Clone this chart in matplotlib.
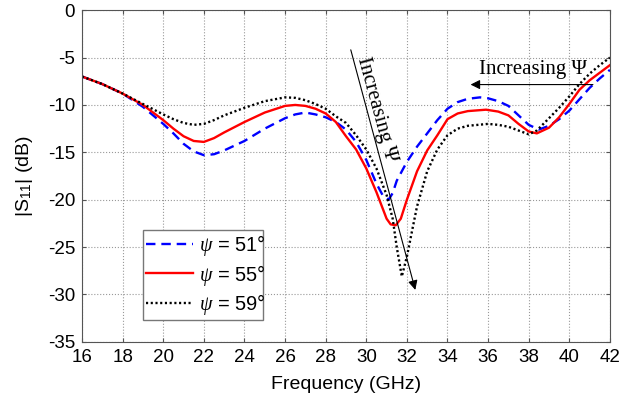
import matplotlib
matplotlib.use("Agg")
import matplotlib.pyplot as plt

plt.rcParams['font.family'] = ['Liberation Sans', 'DejaVu Sans']
plt.rcParams['axes.unicode_minus'] = False
plt.rcParams['mathtext.fontset'] = 'custom'
plt.rcParams['mathtext.rm'] = 'Liberation Sans'
plt.rcParams['mathtext.it'] = 'Liberation Serif:italic'

# --- data ---
f_51 = [16, 17, 18, 19, 20, 20.5, 21, 21.5, 22, 22.5, 23, 23.5, 24, 25, 26, 26.5,
        27, 27.5, 28, 28.5, 29, 29.5, 30, 30.5, 30.8, 31.1, 31.3, 31.5, 32, 32.5,
        33, 33.5, 34, 34.5, 35, 35.6, 36, 36.5, 37, 37.5, 38, 38.5, 39, 39.5, 40,
        40.5, 41, 41.5, 42]
s_51 = [-7.0, -7.8, -8.8, -10.2, -12.0, -13.0, -14.1, -14.9, -15.3, -15.2, -14.8,
        -14.3, -13.8, -12.5, -11.4, -11.0, -10.8, -11.0, -11.3, -11.8, -12.6, -13.9,
        -15.8, -18.3, -19.5, -20.0, -19.3, -18.0, -16.0, -14.4, -13.0, -11.6, -10.4,
        -9.7, -9.35, -9.2, -9.3, -9.6, -10.1, -11.1, -12.1, -12.6, -12.2, -11.5,
        -10.6, -9.4, -8.2, -7.2, -6.3]

f_55 = [16, 17, 18, 19, 20, 20.5, 21, 21.5, 22, 22.5, 23, 24, 25, 26, 26.5, 27,
        27.5, 28, 28.5, 29, 29.5, 30, 30.5, 31.0, 31.2, 31.45, 31.7, 32, 32.5, 33,
        33.5, 34, 34.5, 35, 35.9, 36.5, 37, 37.5, 38, 38.4, 39, 39.5, 40, 40.5, 41,
        41.5, 42]
s_55 = [-7.0, -7.8, -8.8, -10.0, -11.6, -12.5, -13.3, -13.8, -13.9, -13.5, -12.9,
        -11.8, -10.8, -10.1, -10.0, -10.1, -10.4, -10.9, -11.8, -13.3, -14.7, -16.7,
        -19.2, -22.0, -22.6, -22.7, -22.0, -20.0, -17.0, -14.8, -13.2, -11.5, -10.9,
        -10.65, -10.5, -10.7, -11.1, -12.0, -12.8, -13.0, -12.4, -11.3, -9.9, -8.4,
        -7.4, -6.6, -5.8]

f_59 = [16, 17, 18, 19, 20, 20.5, 21, 21.5, 22, 22.5, 23, 24, 25, 26, 26.5, 27,
        27.5, 28, 28.5, 29, 29.5, 30, 30.5, 31.0, 31.3, 31.5, 31.75, 32.0, 32.3,
        32.5, 33, 33.5, 34, 34.5, 35, 36, 36.5, 37, 37.5, 38, 38.4, 39, 39.5, 40,
        40.5, 41, 41.5, 42]
s_59 = [-7.0, -7.8, -8.8, -9.9, -11.0, -11.5, -11.9, -12.1, -12.0, -11.6, -11.1,
        -10.3, -9.6, -9.2, -9.25, -9.5, -9.9, -10.4, -11.2, -11.9, -13.2, -14.7,
        -16.7, -19.5, -22.0, -25.0, -28.1, -26.0, -22.8, -20.7, -17.0, -14.7, -13.2,
        -12.5, -12.2, -12.0, -12.1, -12.3, -12.7, -13.1, -12.7, -11.4, -10.3, -9.1,
        -7.8, -6.7, -5.8, -5.0]

labels = [r'$\psi$ = 51°', r'$\psi$ = 55°', r'$\psi$ = 59°']

fig = plt.figure(figsize=(6.36, 4.07), dpi=100)
ax = fig.add_axes([0.129, 0.160, 0.830, 0.815])

ax.plot(f_51, s_51, color='#0000ff', lw=1.7, dashes=(4, 2.5), label=labels[0])
ax.plot(f_55, s_55, color='#ff0000', lw=1.7, label=labels[1])
ax.plot(f_59, s_59, color='black', lw=1.7, dashes=(0.9, 1.1), label=labels[2])

ax.set_xlim(16, 42)
ax.set_ylim(-35, 0)
ax.set_xticks(range(16, 43, 2))
ax.set_yticks(range(-35, 1, 5))
ax.tick_params(direction='in', labelsize=13.5, top=True, right=True,
               length=3, color='#555555', pad=5)
for s in ax.spines.values():
    s.set_color('#555555')
    s.set_linewidth(0.8)
ax.grid(True, ls=':', color='#999999', lw=0.8)

ax.set_xlabel('Frequency (GHz)', fontsize=14, labelpad=7)
ax.set_ylabel(r'|S$_{11}$| (dB)', fontsize=14, labelpad=9)

# --- annotations ---
ax.annotate('', xy=(32.45, -29.8), xytext=(29.2, -3.9),
            arrowprops=dict(arrowstyle='-|>', color='black', lw=0.8,
                            mutation_scale=14))
ax.text(30.5, -10.5, 'Increasing Ψ', rotation=-74.7, rotation_mode='anchor',
        ha='center', va='center', fontsize=15, family='Liberation Serif')

ax.annotate('', xy=(35.0, -7.85), xytext=(41.3, -7.85),
            arrowprops=dict(arrowstyle='-|>', color='black', lw=0.8,
                            mutation_scale=14))
ax.text(38.2, -6.3, 'Increasing Ψ', ha='center', va='center', fontsize=15,
        family='Liberation Serif')

leg = ax.legend(loc='lower left', bbox_to_anchor=(0.116, 0.066, 0.226, 0.264),
                mode='expand', fontsize=14.5, handlelength=2.3, handletextpad=0.3,
                borderpad=0.15, labelspacing=0.22, borderaxespad=0, fancybox=False,
                framealpha=1)
leg.get_frame().set_edgecolor('#777777')
leg.get_frame().set_linewidth(1.0)

fig.savefig('out.png', dpi=100)
